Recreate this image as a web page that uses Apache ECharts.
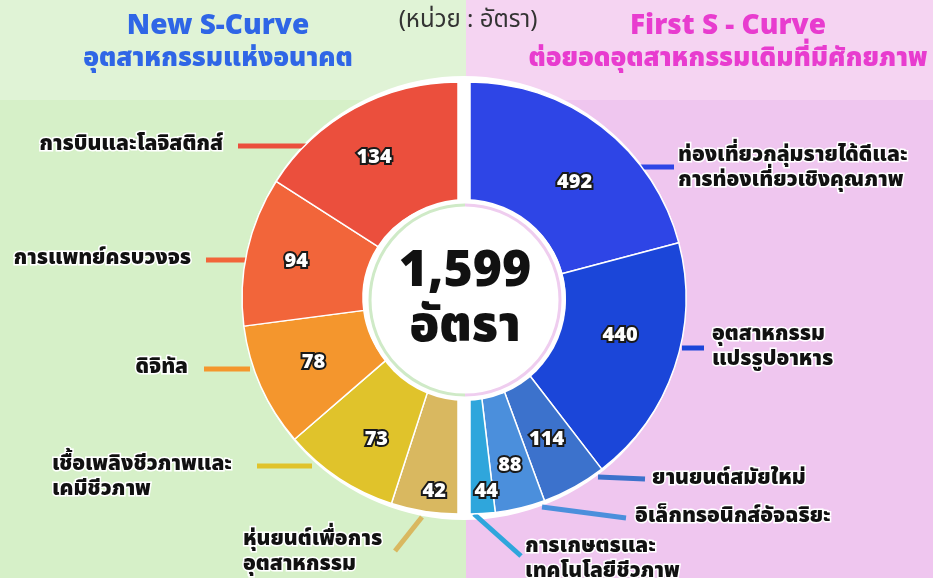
<!DOCTYPE html>
<html>
<head>
<meta charset="utf-8">
<script src="https://cdn.jsdelivr.net/npm/echarts@6/dist/echarts.min.js"></script>
<style>
html,body{margin:0;padding:0;background:#d6f0c8;}
#chart{width:933px;height:578px;}
</style>
</head>
<body>
<div id="chart"></div>
<script>
// ---- data ----
const rightNames = ['ท่องเที่ยวกลุ่มรายได้ดีและ\nการท่องเที่ยวเชิงคุณภาพ', 'อุตสาหกรรม\nแปรรูปอาหาร', 'ยานยนต์สมัยใหม่', 'อิเล็กทรอนิกส์อัจฉริยะ', 'การเกษตรและ\nเทคโนโลยีชีวภาพ'];
const rightValues = [492, 440, 114, 88, 44];
const leftNames = ['หุ่นยนต์เพื่อการ\nอุตสาหกรรม', 'เชื้อเพลิงชีวภาพและ\nเคมีชีวภาพ', 'ดิจิทัล', 'การแพทย์ครบวงจร', 'การบินและโลจิสติกส์'];
const leftValues = [42, 73, 78, 94, 134];
const leftTitle = ['New S-Curve', 'อุตสาหกรรมแห่งอนาคต'];
const rightTitle = ['First S - Curve', 'ต่อยอดอุตสาหกรรมเดิมที่มีศักยภาพ'];
const unitText = '(หน่วย : อัตรา)';
const centerUnit = 'อัตรา';

// ---- styles ----
const rightColors = ['#2e45e6', '#1b46d9', '#3c72cc', '#4b8fdc', '#2fa6dc'];
const leftColors = ['#d9b860', '#e0c32b', '#f4962d', '#f2653a', '#eb4f3d'];
const FONT = "'Noto Sans Thai','Noto Sans Thai UI','Noto Sans','DejaVu Sans',sans-serif";

// label layout (positions of annotation text and leader lines)
const rightLayout = [
  {x: 678, y: 169, align: 'left', pts: [[637, 167], [674, 167]]},
  {x: 712, y: 348, align: 'left', pts: [[682, 348], [704, 348]]},
  {x: 652, y: 480, align: 'left', pts: [[598, 477], [645, 479]]},
  {x: 635, y: 518, align: 'left', pts: [[542, 507], [626, 518]]},
  {x: 525, y: 560, align: 'left', pts: [[474, 514], [521, 556]]}
];
const leftLayout = [
  {x: 243, y: 553, align: 'left', pts: [[422, 517], [395, 551]]},
  {x: 52, y: 478, align: 'left', pts: [[312, 466], [257, 466]]},
  {x: 188, y: 369, align: 'right', pts: [[250, 369], [204, 369]]},
  {x: 191, y: 260, align: 'right', pts: [[250, 260], [206, 260]]},
  {x: 223, y: 146, align: 'right', pts: [[310, 146], [238, 146]]}
];
// nudges of the value labels inside the slices
const rightValueShift = [[8, 12], [0, -12], [0, 4], [3, 15], [7, 37]];
const leftValueShift = [[1, 38], [6, 11], [0, 1], [-7, 0], [-8, 0]];

const total = rightValues.concat(leftValues).reduce((a, b) => a + b, 0);

const R_CENTER = [470, 298];
const L_CENTER = [458, 298];
const RADIUS = [95, 216];

function mkData(names, values, colors) {
  return values.map((v, i) => ({name: names[i], value: v, itemStyle: {color: colors[i]}}));
}

const nameLabel = {
  show: true,
  position: 'outside',
  formatter: '{b}',
  fontFamily: FONT,
  fontSize: 21,
  fontWeight: 900,
  color: '#111',
  textBorderColor: '#fff',
  textBorderWidth: 3,
  lineHeight: 25
};
const valueLabel = {
  show: true,
  position: 'inside',
  formatter: '{c}',
  fontFamily: FONT,
  fontSize: 20,
  fontWeight: 900,
  color: '#fff',
  textBorderColor: '#1a1a1a',
  textBorderWidth: 4
};

function layoutFn(table) {
  return function (params) {
    const L = table[params.dataIndex];
    return {
      x: L.x, y: L.y, align: L.align, verticalAlign: 'middle',
      labelLinePoints: [L.pts[1], L.pts[0], L.pts[0]]
    };
  };
}
function shiftFn(table) {
  return function (params) {
    const s = table[params.dataIndex];
    return {dx: s[0], dy: s[1]};
  };
}

function pieBase(center, start, end) {
  return {
    type: 'pie',
    center: center,
    radius: RADIUS,
    startAngle: start,
    endAngle: end,
    clockwise: true,
    avoidLabelOverlap: false,
    silent: true,
    animation: false
  };
}

const chart = echarts.init(document.getElementById('chart'), null, {renderer: 'canvas'});
chart.setOption({
  animation: false,
  graphic: [
    {type: 'rect', z: -10, shape: {x: 0, y: 0, width: 466, height: 100}, style: {fill: '#e0f3d6'}},
    {type: 'rect', z: -10, shape: {x: 0, y: 100, width: 466, height: 478}, style: {fill: '#d6f0c8'}},
    {type: 'rect', z: -10, shape: {x: 466, y: 0, width: 467, height: 100}, style: {fill: '#f5d4f2'}},
    {type: 'rect', z: -10, shape: {x: 466, y: 100, width: 467, height: 478}, style: {fill: '#efc6ef'}},
    {type: 'circle', z: -5, shape: {cx: 464, cy: 298, r: 222}, style: {fill: '#ffffff'}},
    {type: 'circle', z: 10, shape: {cx: 465, cy: 300, r: 101}, style: {fill: '#ffffff'}},
    {type: 'arc', z: 11, shape: {cx: 465, cy: 300, r: 95, startAngle: Math.PI / 2, endAngle: Math.PI * 1.5, clockwise: true}, style: {stroke: '#cfeac7', lineWidth: 3, fill: null}},
    {type: 'arc', z: 11, shape: {cx: 465, cy: 300, r: 95, startAngle: -Math.PI / 2, endAngle: Math.PI / 2, clockwise: true}, style: {stroke: '#efcdef', lineWidth: 3, fill: null}},
    {type: 'text', z: 12, style: {x: 465, y: 276, text: total.toLocaleString('en-US'), align: 'center', verticalAlign: 'middle', font: "900 50px " + FONT, fill: '#111'}},
    {type: 'text', z: 12, style: {x: 465, y: 331, text: centerUnit, align: 'center', verticalAlign: 'middle', font: "900 49px " + FONT, fill: '#111'}},
    {type: 'text', z: 12, style: {x: 218, y: 28, text: leftTitle[0], align: 'center', verticalAlign: 'middle', font: "900 28px " + FONT, fill: '#2f66e6'}},
    {type: 'text', z: 12, style: {x: 218, y: 61, text: leftTitle[1], align: 'center', verticalAlign: 'middle', font: "900 26px " + FONT, fill: '#2f66e6'}},
    {type: 'text', z: 12, style: {x: 728, y: 28, text: rightTitle[0], align: 'center', verticalAlign: 'middle', font: "900 28px " + FONT, fill: '#e83ccf'}},
    {type: 'text', z: 12, style: {x: 728, y: 61, text: rightTitle[1], align: 'center', verticalAlign: 'middle', font: "900 26px " + FONT, fill: '#e83ccf'}},
    {type: 'text', z: 12, style: {x: 468, y: 22, text: unitText, align: 'center', verticalAlign: 'middle', font: "400 24px " + FONT, fill: '#333'}}
  ],
  series: [
    Object.assign(pieBase(R_CENTER, 90, -90), {
      name: 'first',
      data: mkData(rightNames, rightValues, rightColors),
      itemStyle: {borderColor: '#fff', borderWidth: 1.5},
      label: nameLabel,
      labelLine: {show: true, lineStyle: {width: 5}},
      labelLayout: layoutFn(rightLayout)
    }),
    Object.assign(pieBase(L_CENTER, 270, 90), {
      name: 'new',
      data: mkData(leftNames, leftValues, leftColors),
      itemStyle: {borderColor: '#fff', borderWidth: 1.5},
      label: nameLabel,
      labelLine: {show: true, lineStyle: {width: 5}},
      labelLayout: layoutFn(leftLayout)
    }),
    Object.assign(pieBase(R_CENTER, 90, -90), {
      name: 'firstValues', z: 20,
      data: rightValues.map((v, i) => ({name: rightNames[i], value: v})),
      itemStyle: {color: 'rgba(0,0,0,0)'},
      label: valueLabel,
      labelLine: {show: false},
      labelLayout: shiftFn(rightValueShift)
    }),
    Object.assign(pieBase(L_CENTER, 270, 90), {
      name: 'newValues', z: 20,
      data: leftValues.map((v, i) => ({name: leftNames[i], value: v})),
      itemStyle: {color: 'rgba(0,0,0,0)'},
      label: valueLabel,
      labelLine: {show: false},
      labelLayout: shiftFn(leftValueShift)
    })
  ]
});
</script>
</body>
</html>
